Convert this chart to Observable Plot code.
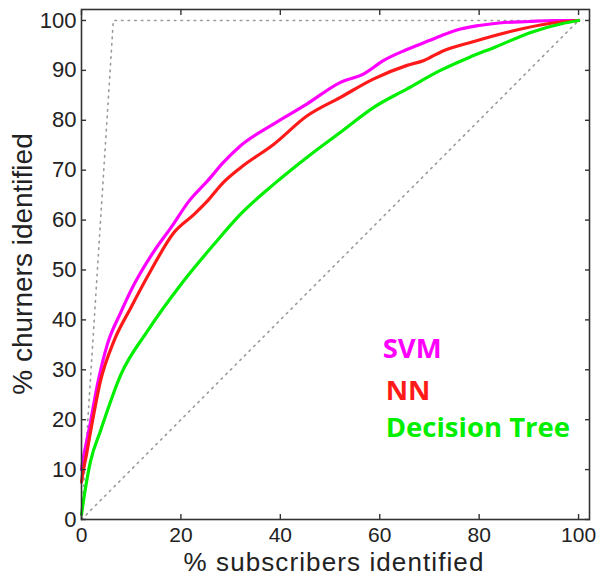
<!DOCTYPE html>
<html>
<head>
<meta charset="utf-8">
<script src="https://cdn.jsdelivr.net/npm/d3@7"></script>
<script src="https://cdn.jsdelivr.net/npm/@observablehq/plot@0.6"></script>
<style>
  html, body { margin: 0; padding: 0; background: #fff; }
  #chart svg { display: block; }
</style>
</head>
<body>
<div id="chart"></div>
<script>
// ---- data ----
const seriesNames = ["SVM", "NN", "Decision Tree"];
const seriesColors = ["#ff00ff", "#ff1a1a", "#00ee00"];

const svmX = [0, 0.3, 1, 1.8, 3.2, 5.2, 7.9, 9.9, 14.6, 18, 21.7, 25.4, 28.5, 32, 38.7, 45.4, 52.1, 56.8, 60.8, 65, 68.5, 72, 75.2, 80, 84, 90, 95, 98.1, 100];
const svmY = [10, 12, 15.5, 19.5, 27, 35.1, 41.5, 45.8, 53.8, 58.5, 63.9, 67.9, 71.5, 74.9, 79.3, 83.3, 87.6, 89.3, 92, 94, 95.4, 96.8, 98, 99, 99.5, 99.8, 100, 100, 100];

const nnX = [0, 0.3, 1, 1.8, 3.8, 6.5, 9.9, 13.9, 18.6, 22.7, 25.4, 28.5, 32, 38.7, 45.4, 52.1, 58.8, 65.5, 68.9, 72.5, 78.6, 86.7, 94.1, 100];
const nnY = [7.5, 9.5, 13, 17.5, 27.7, 35.7, 42.4, 49.8, 57.5, 61.2, 63.9, 67.5, 70.5, 75.2, 80.9, 84.6, 88.3, 91, 92, 93.8, 95.7, 97.9, 99.4, 100];

const dtX = [0, 0.8, 1.8, 3.8, 7.9, 13.3, 20, 26.7, 32, 38.7, 45.4, 52.1, 58.8, 65.5, 72.2, 78, 83.3, 90.7, 96.8, 100];
const dtY = [1, 6.3, 11.6, 17.7, 29, 37.8, 47.1, 55.2, 61.2, 67.2, 72.6, 77.6, 82.6, 86.3, 90, 92.6, 94.7, 97.7, 99.4, 100];

const perfectX = [0, 6.4, 100];
const perfectY = [0, 100, 100];
const randomX = [0, 100];
const randomY = [0, 100];

const xTicks = [0, 20, 40, 60, 80, 100];
const yTicks = [0, 10, 20, 30, 40, 50, 60, 70, 80, 90, 100];

// ---- build tables ----
const toRows = (xs, ys, name) => xs.map((x, i) => ({x, y: ys[i], name}));
const curves = [
  ...toRows(svmX, svmY, "SVM"),
  ...toRows(nnX, nnY, "NN"),
  ...toRows(dtX, dtY, "Decision Tree")
];
const perfect = toRows(perfectX, perfectY, "perfect");
const random = toRows(randomX, randomY, "random");

const legend = [
  {name: "SVM", x: 60.6, y: 34.2},
  {name: "NN", x: 61.2, y: 25.8},
  {name: "Decision Tree", x: 61.2, y: 18.3}
];

const axisFont = "Liberation Sans, Arial, Helvetica, sans-serif";

const chart = Plot.plot({
  width: 600,
  height: 577,
  marginLeft: 81,
  marginRight: 11,
  marginTop: 9,
  marginBottom: 58,
  style: {fontFamily: axisFont, background: "#fff", color: "#222"},
  x: {domain: [0, 102.2]},
  y: {domain: [0, 102.2]},
  color: {domain: seriesNames, range: seriesColors},
  marks: [
    Plot.line(random, {x: "x", y: "y", stroke: "#9a9a9a", strokeWidth: 1.6, strokeDasharray: "1.6,5"}),
    Plot.line(perfect, {x: "x", y: "y", stroke: "#9a9a9a", strokeWidth: 1.6, strokeDasharray: "1.6,5"}),
    Plot.line(curves, {x: "x", y: "y", z: "name", stroke: "name", strokeWidth: 3.2, curve: "monotone-x"}),
    Plot.frame({stroke: "#333", strokeWidth: 1.6}),
    // inward ticks on all sides
    Plot.axisX(xTicks, {anchor: "bottom", tickSize: -5, text: null, label: null, stroke: "#333", strokeWidth: 1.4}),
    Plot.axisX(xTicks, {anchor: "top", tickSize: -5, text: null, label: null, stroke: "#333", strokeWidth: 1.4}),
    Plot.axisY(yTicks, {anchor: "left", tickSize: -5, text: null, label: null, stroke: "#333", strokeWidth: 1.4}),
    Plot.axisY(yTicks, {anchor: "right", tickSize: -5, text: null, label: null, stroke: "#333", strokeWidth: 1.4}),
    // tick labels
    Plot.axisX(xTicks, {anchor: "bottom", tickSize: 0, tickPadding: 8, fontSize: 21, fill: "#222", label: null}),
    Plot.axisY(yTicks, {anchor: "left", tickSize: 0, tickPadding: 5, fontSize: 22, fill: "#222", label: null}),
    // legend labels
    Plot.text(legend, {x: "x", y: "y", text: "name", fill: "name", textAnchor: "start",
      fontSize: 27.5, fontWeight: "bold", fontFamily: "Open Sans, Lato, sans-serif"})
  ]
});

const svg = d3.select(chart);
// axis titles
svg.append("text")
  .attr("x", 334).attr("y", 570.5)
  .attr("text-anchor", "middle")
  .attr("font-family", axisFont).attr("font-size", 26).attr("fill", "#222")
  .attr("letter-spacing", 1.1)
  .text("% subscribers identified");
svg.append("text")
  .attr("transform", "translate(32,264) rotate(-90)")
  .attr("text-anchor", "middle")
  .attr("font-family", axisFont).attr("font-size", 28).attr("fill", "#222")
  .text("% churners identified");

document.getElementById("chart").appendChild(chart);
</script>
</body>
</html>
